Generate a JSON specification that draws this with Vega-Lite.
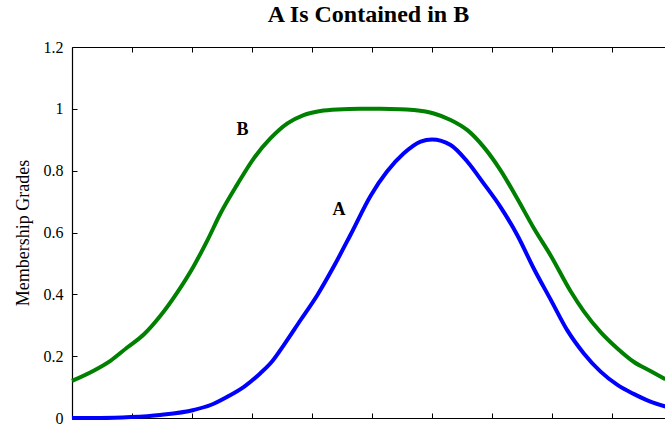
{
  "$schema": "https://vega.github.io/schema/vega-lite/v6.json",
  "autosize": {"type": "none"},
  "width": 593,
  "height": 371,
  "padding": {"left": 72, "top": 47, "right": 0, "bottom": 8},
  "background": "white",
  "config": {
    "view": {"stroke": null},
    "font": "Liberation Serif",
    "axis": {
      "domainColor": "#000000",
      "domainWidth": 1.2,
      "tickColor": "#000000",
      "tickWidth": 1,
      "grid": false,
      "labelFont": "Liberation Serif",
      "labelColor": "#000000",
      "titleFont": "Liberation Serif",
      "titleColor": "#000000",
      "titleFontWeight": "normal"
    }
  },
  "title": {
    "text": "A Is Contained in B",
    "font": "Liberation Serif",
    "fontSize": 24,
    "fontWeight": "bold",
    "color": "#000000",
    "anchor": "middle",
    "baseline": "alphabetic",
    "offset": 2,
    "dy": 9
  },
  "datasets": {
    "curves": [
      {"x": 0.0, "grade": 0.0, "set": "A"},
      {"x": 0.47, "grade": 0.0, "set": "A"},
      {"x": 0.98, "grade": 0.003, "set": "A"},
      {"x": 1.47, "grade": 0.01, "set": "A"},
      {"x": 2.03, "grade": 0.026, "set": "A"},
      {"x": 2.31, "grade": 0.042, "set": "A"},
      {"x": 2.59, "grade": 0.069, "set": "A"},
      {"x": 2.86, "grade": 0.1, "set": "A"},
      {"x": 3.14, "grade": 0.145, "set": "A"},
      {"x": 3.33, "grade": 0.182, "set": "A"},
      {"x": 3.53, "grade": 0.236, "set": "A"},
      {"x": 3.81, "grade": 0.317, "set": "A"},
      {"x": 4.09, "grade": 0.398, "set": "A"},
      {"x": 4.36, "grade": 0.489, "set": "A"},
      {"x": 4.64, "grade": 0.592, "set": "A"},
      {"x": 4.98, "grade": 0.72, "set": "A"},
      {"x": 5.25, "grade": 0.797, "set": "A"},
      {"x": 5.53, "grade": 0.856, "set": "A"},
      {"x": 5.81, "grade": 0.894, "set": "A"},
      {"x": 6.0, "grade": 0.901, "set": "A"},
      {"x": 6.31, "grade": 0.883, "set": "A"},
      {"x": 6.59, "grade": 0.829, "set": "A"},
      {"x": 6.86, "grade": 0.759, "set": "A"},
      {"x": 7.14, "grade": 0.683, "set": "A"},
      {"x": 7.42, "grade": 0.592, "set": "A"},
      {"x": 7.7, "grade": 0.482, "set": "A"},
      {"x": 7.98, "grade": 0.382, "set": "A"},
      {"x": 8.25, "grade": 0.285, "set": "A"},
      {"x": 8.53, "grade": 0.209, "set": "A"},
      {"x": 8.81, "grade": 0.15, "set": "A"},
      {"x": 9.09, "grade": 0.107, "set": "A"},
      {"x": 9.36, "grade": 0.078, "set": "A"},
      {"x": 9.64, "grade": 0.053, "set": "A"},
      {"x": 9.89, "grade": 0.037, "set": "A"},
      {"x": 0.0, "grade": 0.12, "set": "B"},
      {"x": 0.36, "grade": 0.153, "set": "B"},
      {"x": 0.64, "grade": 0.185, "set": "B"},
      {"x": 0.92, "grade": 0.228, "set": "B"},
      {"x": 1.2, "grade": 0.271, "set": "B"},
      {"x": 1.47, "grade": 0.33, "set": "B"},
      {"x": 1.75, "grade": 0.405, "set": "B"},
      {"x": 2.03, "grade": 0.492, "set": "B"},
      {"x": 2.25, "grade": 0.572, "set": "B"},
      {"x": 2.47, "grade": 0.66, "set": "B"},
      {"x": 2.75, "grade": 0.754, "set": "B"},
      {"x": 3.03, "grade": 0.84, "set": "B"},
      {"x": 3.31, "grade": 0.905, "set": "B"},
      {"x": 3.59, "grade": 0.953, "set": "B"},
      {"x": 3.86, "grade": 0.98, "set": "B"},
      {"x": 4.14, "grade": 0.993, "set": "B"},
      {"x": 4.42, "grade": 0.998, "set": "B"},
      {"x": 4.81, "grade": 1.0, "set": "B"},
      {"x": 5.14, "grade": 1.0, "set": "B"},
      {"x": 5.47, "grade": 0.999, "set": "B"},
      {"x": 5.69, "grade": 0.996, "set": "B"},
      {"x": 6.03, "grade": 0.985, "set": "B"},
      {"x": 6.31, "grade": 0.964, "set": "B"},
      {"x": 6.59, "grade": 0.931, "set": "B"},
      {"x": 6.86, "grade": 0.877, "set": "B"},
      {"x": 7.14, "grade": 0.802, "set": "B"},
      {"x": 7.42, "grade": 0.71, "set": "B"},
      {"x": 7.7, "grade": 0.613, "set": "B"},
      {"x": 7.98, "grade": 0.525, "set": "B"},
      {"x": 8.31, "grade": 0.41, "set": "B"},
      {"x": 8.53, "grade": 0.345, "set": "B"},
      {"x": 8.81, "grade": 0.278, "set": "B"},
      {"x": 9.09, "grade": 0.225, "set": "B"},
      {"x": 9.36, "grade": 0.182, "set": "B"},
      {"x": 9.64, "grade": 0.152, "set": "B"},
      {"x": 9.89, "grade": 0.125, "set": "B"}
    ],
    "names": [
      {"x": 2.84, "grade": 0.931, "set": "B"},
      {"x": 4.45, "grade": 0.673, "set": "A"}
    ]
  },
  "resolve": {"axis": {"x": "independent"}},
  "layer": [
    {
      "data": {"name": "curves"},
      "mark": {"type": "line", "strokeWidth": 4, "strokeCap": "butt", "strokeJoin": "round", "interpolate": "monotone"},
      "encoding": {
        "x": {
          "field": "x",
          "type": "quantitative",
          "scale": {"domain": [0, 9.883], "nice": false, "zero": false},
          "axis": {
            "orient": "bottom",
            "title": null,
            "labels": false,
            "values": [1, 2, 3, 4, 5, 6, 7, 8, 9],
            "tickSize": -5
          }
        },
        "y": {
          "field": "grade",
          "type": "quantitative",
          "scale": {"domain": [0, 1.2], "nice": false},
          "axis": {
            "title": "Membership Grades",
            "titleFontSize": 18,
            "titlePadding": 11,
            "values": [0, 0.2, 0.4, 0.6, 0.8, 1, 1.2],
            "format": "~g",
            "labelFontSize": 16,
            "labelPadding": 14,
            "tickSize": -5
          }
        },
        "color": {
          "field": "set",
          "type": "nominal",
          "scale": {"domain": ["A", "B"], "range": ["#0000ff", "#008000"]},
          "legend": null
        }
      }
    },
    {
      "data": {"name": "names"},
      "mark": {
        "type": "text",
        "font": "Liberation Serif",
        "fontSize": 18,
        "fontWeight": "bold",
        "color": "#000000",
        "align": "center",
        "baseline": "middle"
      },
      "encoding": {
        "x": {
          "field": "x",
          "type": "quantitative",
          "axis": {
            "orient": "top",
            "title": null,
            "labels": false,
            "values": [1, 2, 3, 4, 5, 6, 7, 8, 9],
            "tickSize": -5
          }
        },
        "y": {"field": "grade", "type": "quantitative"},
        "text": {"field": "set"}
      }
    }
  ]
}
